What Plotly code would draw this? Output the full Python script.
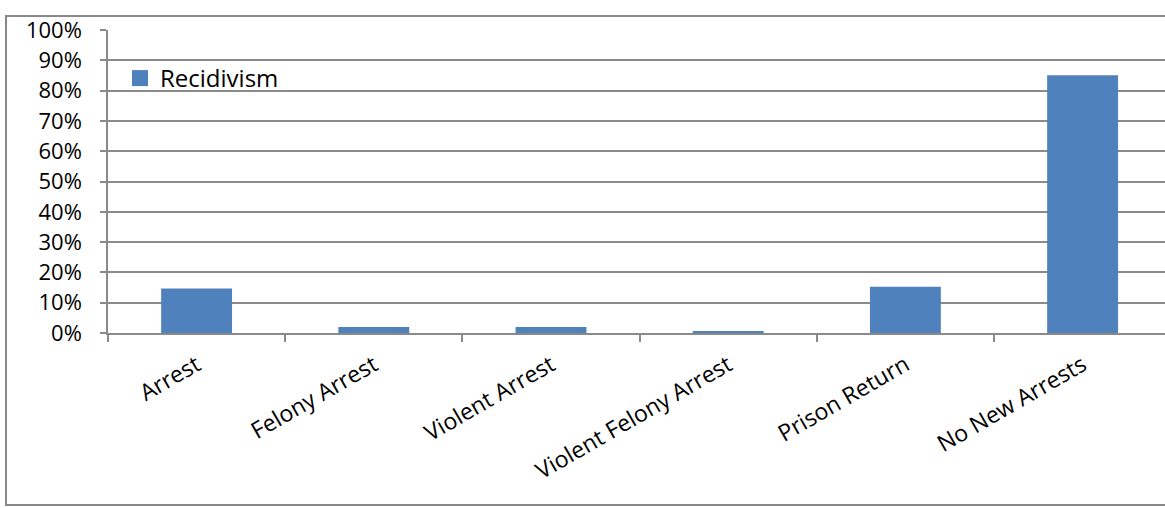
import plotly.graph_objects as go

categories = ["Arrest", "Felony Arrest", "Violent Arrest", "Violent Felony Arrest", "Prison Return", "No New Arrests"]
recidivism = [0.147, 0.020, 0.020, 0.004, 0.153, 0.851]
series_name = "Recidivism"

W, H = 1165, 508
L, T, B = 108, 30, 175
plot_w = W - L
plot_h = H - T - B
cat_w = 177.2
bar_color = "#4f81bd"

fig = go.Figure()
fig.add_trace(go.Bar(
    x=categories, y=recidivism, name=series_name,
    marker=dict(color=bar_color, line=dict(width=0)),
    showlegend=False,
))
# legend entry with a larger square swatch
fig.add_trace(go.Scatter(
    x=[None], y=[None], mode="markers", name=series_name,
    marker=dict(symbol="square", size=16, color=bar_color),
    showlegend=True,
))

grid_c = "#8a8a8a"
fig.update_layout(
    width=W, height=H,
    margin=dict(l=L, r=0, t=T, b=B, pad=0),
    paper_bgcolor="white", plot_bgcolor="white",
    bargap=0.6,
    font=dict(family="Open Sans", size=22, color="black"),
    showlegend=True,
    legend=dict(x=(120 - L) / plot_w, y=(333 - 56) / plot_h, xanchor="left", yanchor="top",
                font=dict(size=24), bgcolor="rgba(0,0,0,0)", itemwidth=30),
    xaxis=dict(type="category", range=[-0.5, -0.5 + plot_w / cat_w],
               tickson="boundaries", ticks="outside", ticklen=7, tickcolor=grid_c, tickwidth=1.5,
               showline=True, linecolor=grid_c, linewidth=1.5, showgrid=False,
               tickangle=-30, tickfont=dict(size=23), ticklabelstandoff=8),
    yaxis=dict(range=[0, 1], dtick=0.1, tickformat=".0%", ticks="outside", ticklen=6,
               tickcolor=grid_c, tickwidth=1.5, showline=True, linecolor=grid_c, linewidth=1.5,
               showgrid=True, gridcolor=grid_c, gridwidth=1.5, zeroline=False,
               ticklabelstandoff=14, tickfont=dict(size=22)),
    shapes=[dict(type="rect", xref="paper", yref="paper",
                 x0=(6 - L) / plot_w, x1=1.05,
                 y0=(333 - 505) / plot_h, y1=(333 - 16) / plot_h,
                 line=dict(color="#888888", width=2), fillcolor="rgba(0,0,0,0)", layer="below")],
)

fig.write_html("out.html", config={"displayModeBar": False},
               post_script="document.body.style.margin='0';document.body.style.overflow='hidden';")
